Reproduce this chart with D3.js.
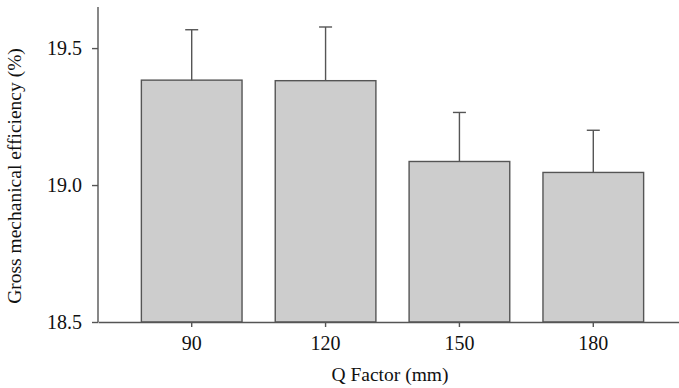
<!DOCTYPE html>
<html>
<head>
<meta charset="utf-8">
<script src="https://cdn.jsdelivr.net/npm/d3@7"></script>
<style>
  html, body { margin: 0; padding: 0; background: #fff; }
  svg { display: block; }
  text { font-family: "Liberation Serif", "Times New Roman", serif; fill: #111; }
</style>
</head>
<body>
<div id="chart"></div>
<script>
const categories = ["90", "120", "150", "180"];
const means = [19.383, 19.381, 19.086, 19.046];
const sds = [0.184, 0.196, 0.179, 0.154];
const yTicks = [18.5, 19.0, 19.5];
const xTitle = "Q Factor (mm)";
const yTitle = "Gross mechanical efficiency (%)";

const W = 679, H = 388;
const svg = d3.select("#chart").append("svg").attr("width", W).attr("height", H);

const x = d3.scaleBand().domain(categories).range([98, 687]).paddingInner(0.248).paddingOuter(0.324);
const y = d3.scaleLinear().domain([18.5, 19.65]).range([322, 7]);

const lineColor = "#555";

// bars
svg.append("g").selectAll("rect").data(categories).join("rect")
  .attr("x", d => x(d))
  .attr("y", (d, i) => y(means[i]))
  .attr("width", x.bandwidth())
  .attr("height", (d, i) => y(18.5) - y(means[i]))
  .attr("fill", "#cdcdcd")
  .attr("stroke", lineColor)
  .attr("stroke-width", 1.4);

// error bars
const eg = svg.append("g").attr("stroke", lineColor).attr("stroke-width", 1.4);
categories.forEach((c, i) => {
  const cx = x(c) + x.bandwidth() / 2;
  eg.append("line").attr("x1", cx).attr("x2", cx).attr("y1", y(means[i])).attr("y2", y(means[i] + sds[i]));
  eg.append("line").attr("x1", cx - 6.5).attr("x2", cx + 6.5).attr("y1", y(means[i] + sds[i])).attr("y2", y(means[i] + sds[i]));
});

// y axis
const yAxis = svg.append("g").attr("transform", "translate(98,0)")
  .call(d3.axisLeft(y).tickValues(yTicks).tickFormat(d3.format(".1f")).tickSize(6).tickSizeOuter(0).tickPadding(10));
yAxis.select(".domain").attr("d", `M0,${y(18.5)}V${y(19.65)}`);

// x axis
const xAxis = svg.append("g").attr("transform", "translate(0,322)")
  .call(d3.axisBottom(x).tickSize(5).tickSizeOuter(0).tickPadding(9));

[yAxis, xAxis].forEach(g => {
  g.selectAll("path, line").attr("stroke", lineColor).attr("stroke-width", 1.4);
  g.selectAll("text").attr("font-family", "Liberation Serif, serif").attr("font-size", 20).attr("fill", "#111");
});

// titles
svg.append("text")
  .attr("x", 390)
  .attr("y", 381)
  .attr("text-anchor", "middle")
  .attr("font-size", 19.5)
  .text(xTitle);

svg.append("text")
  .attr("transform", "translate(21,176) rotate(-90)")
  .attr("text-anchor", "middle")
  .attr("font-size", 19.5)
  .text(yTitle);
</script>
</body>
</html>
